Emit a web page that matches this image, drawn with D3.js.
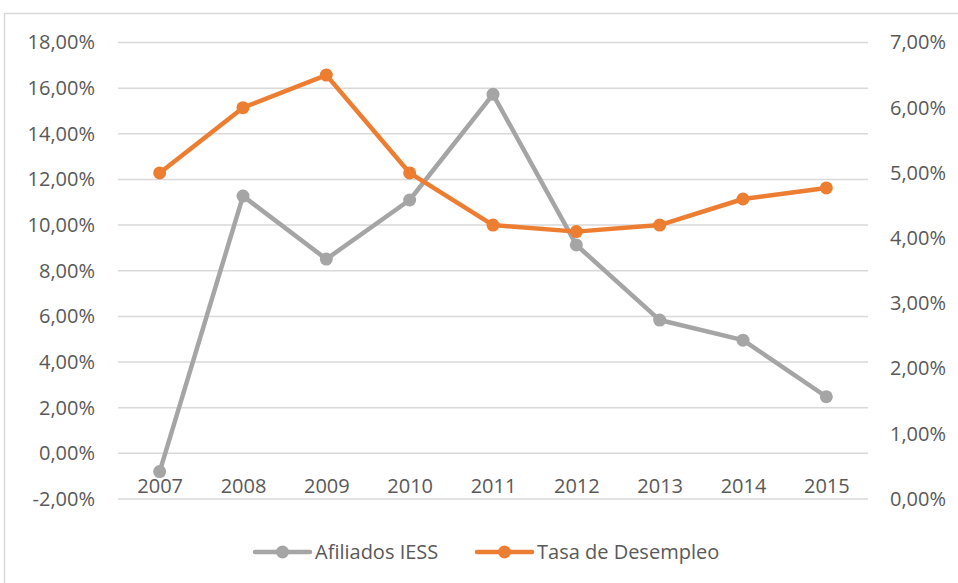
<!DOCTYPE html>
<meta charset="utf-8">
<style>
  body { margin: 0; background: #fff; }
  text { font-family: "Open Sans", sans-serif; font-size: 20px; fill: #595959; }
  .grid line { stroke: #d9d9d9; stroke-width: 1.5; }
  .axis path { display: none; }
</style>
<svg width="958" height="583"></svg>
<script src="https://d3js.org/d3.v7.min.js"></script>
<script>

// data
var years = ['2007', '2008', '2009', '2010', '2011', '2012', '2013', '2014', '2015'];
var afiliados = [-0.80, 11.27, 8.51, 11.10, 15.73, 9.13, 5.84, 4.96, 2.48];
var desempleo = [5.00, 6.00, 6.50, 5.00, 4.20, 4.10, 4.20, 4.60, 4.77];
var leftTicks = [-2, 0, 2, 4, 6, 8, 10, 12, 14, 16, 18];
var rightTicks = [0, 1, 2, 3, 4, 5, 6, 7];
var seriesNames = ['Afiliados IESS', 'Tasa de Desempleo'];
var colors = ['#a5a5a5', '#ed7d31'];

var svg = d3.select('svg');

var plotLeft = 118, plotRight = 868, plotTop = 42.5, plotBottom = 499;

var x = d3.scalePoint().domain(years).range([plotLeft, plotRight]).padding(0.5);
var yL = d3.scaleLinear().domain([-2, 18]).range([plotBottom, plotTop]);
var yR = d3.scaleLinear().domain([0, 7]).range([plotBottom, plotTop]);

var fmt = function(d) { return d.toFixed(2).replace('.', ',') + '%'; };

// chart border
svg.append('rect')
    .attr('x', 4.5).attr('y', 13.5)
    .attr('width', 1000).attr('height', 1000)
    .attr('fill', 'none')
    .attr('stroke', '#d9d9d9')
    .attr('stroke-width', 1.5);

// gridlines
svg.append('g')
    .attr('class', 'grid')
    .selectAll('line')
    .data(leftTicks)
    .enter().append('line')
        .attr('x1', plotLeft).attr('x2', plotRight)
        .attr('y1', d => yL(d)).attr('y2', d => yL(d));

// axes
svg.append('g')
    .attr('class', 'axis')
    .attr('transform', 'translate(' + plotLeft + ',0)')
    .call(d3.axisLeft(yL).tickValues(leftTicks).tickFormat(fmt).tickSize(0).tickPadding(23));

svg.append('g')
    .attr('class', 'axis')
    .attr('transform', 'translate(' + plotRight + ',0)')
    .call(d3.axisRight(yR).tickValues(rightTicks).tickFormat(fmt).tickSize(0).tickPadding(22));

svg.append('g')
    .attr('class', 'axis')
    .attr('transform', 'translate(0,' + yL(0) + ')')
    .call(d3.axisBottom(x).tickSize(0).tickPadding(25));

svg.selectAll('.axis text')
    .attr('font-family', null)
    .attr('font-size', null)
    .attr('fill', null);
svg.selectAll('.axis').attr('font-family', null).attr('font-size', null);

// lines and markers
var series = [
    { name: seriesNames[0], values: afiliados, y: yL, color: colors[0] },
    { name: seriesNames[1], values: desempleo, y: yR, color: colors[1] }
];

series.forEach(function(s) {
    var line = d3.line()
        .x((d, i) => x(years[i]))
        .y(d => s.y(d));

    svg.append('path')
        .datum(s.values)
        .attr('fill', 'none')
        .attr('stroke', s.color)
        .attr('stroke-width', 4.5)
        .attr('stroke-linejoin', 'round')
        .attr('stroke-linecap', 'round')
        .attr('d', line);

    svg.append('g')
        .selectAll('circle')
        .data(s.values)
        .enter().append('circle')
            .attr('cx', (d, i) => x(years[i]))
            .attr('cy', d => s.y(d))
            .attr('r', 6.5)
            .attr('fill', s.color);
});

// legend
var legendX = [255, 477];
var legend = svg.append('g')
    .selectAll('g')
    .data(series)
    .enter().append('g')
        .attr('transform', (d, i) => 'translate(' + legendX[i] + ',552)');

legend.append('line')
    .attr('x1', 0).attr('x2', 55)
    .attr('stroke', d => d.color)
    .attr('stroke-width', 4.5)
    .attr('stroke-linecap', 'round');

legend.append('circle')
    .attr('cx', 27.5)
    .attr('r', 6.5)
    .attr('fill', d => d.color);

legend.append('text')
    .attr('x', 60)
    .attr('dy', '0.35em')
    .text(d => d.name);

</script>
